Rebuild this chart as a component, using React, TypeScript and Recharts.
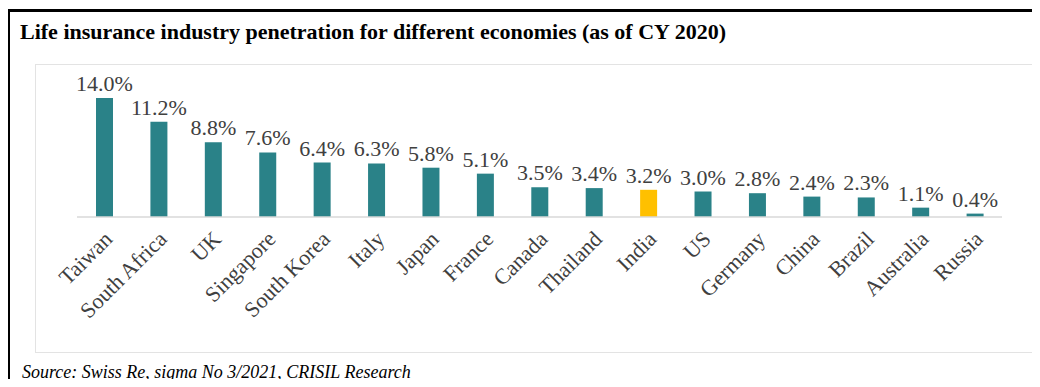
import React from 'react';
import { BarChart, Bar, XAxis, YAxis, Cell, LabelList } from 'recharts';

const countries = ['Taiwan', 'South Africa', 'UK', 'Singapore', 'South Korea', 'Italy', 'Japan', 'France', 'Canada', 'Thailand', 'India', 'US', 'Germany', 'China', 'Brazil', 'Australia', 'Russia'];
const penetration = [14.0, 11.2, 8.8, 7.6, 6.4, 6.3, 5.8, 5.1, 3.5, 3.4, 3.2, 3.0, 2.8, 2.4, 2.3, 1.1, 0.4];
const highlight = 'India';

const data = countries.map((c, i) => ({ country: c, value: penetration[i] }));

const TEAL = '#2A8288';
const GOLD = '#FFC000';
const serif = '"Liberation Serif", "Times New Roman", serif';

const AngledTick: React.FC<any> = ({ x, y, payload }) => (
  <g transform={`translate(${x + 4},${y + 10})`}>
    <text transform="rotate(-45)" textAnchor="end" dy="0.35em" fontSize={22} fill="#404040" fontFamily={serif}>
      {payload.value}
    </text>
  </g>
);

// labels sit above the bar, but never lower than a floor line like the original
const ValueLabel: React.FC<any> = ({ x, y, width, value }) => {
  const ty = Math.min(y - 7, 190);
  return (
    <text x={x + width / 2} y={ty} textAnchor="middle" fontSize={22} fill="#404040" fontFamily={serif}>
      {`${value.toFixed(1)}%`}
    </text>
  );
};

export default function App() {
  return (
    <div style={{ position: 'relative', margin: -8, width: 1040, height: 387, background: '#fff', overflow: 'hidden', fontFamily: serif }}>
      <div style={{ position: 'absolute', left: 7, top: 9, width: 1033, height: 378, borderTop: '3px solid #000', borderLeft: '3px solid #000' }} />
      <div style={{ position: 'absolute', left: 20, top: 19, fontSize: 22, fontWeight: 'bold', color: '#000', whiteSpace: 'nowrap' }}>
        Life insurance industry penetration for different economies (as of CY 2020)
      </div>
      <div style={{ position: 'absolute', left: 35, top: 64, width: 1004, height: 287, border: '1px solid #e3e3e3' }}>
        <BarChart width={1004} height={287} data={data} margin={{ top: 33, right: 38, left: 41, bottom: 35 }} barCategoryGap={0}>
          <XAxis dataKey="country" interval={0} height={100} tick={<AngledTick />} tickLine={false} axisLine={{ stroke: '#d9d9d9', strokeWidth: 1.5 }} />
          <YAxis hide domain={[0, 14]} />
          <Bar dataKey="value" barSize={17} isAnimationActive={false}>
            {data.map((d) => (
              <Cell key={d.country} fill={d.country === highlight ? GOLD : TEAL} />
            ))}
            <LabelList dataKey="value" content={<ValueLabel />} />
          </Bar>
        </BarChart>
      </div>
      <div style={{ position: 'absolute', left: 22, top: 362, fontSize: 18, fontStyle: 'italic', color: '#000', whiteSpace: 'nowrap' }}>
        Source: Swiss Re, sigma No 3/2021, CRISIL Research
      </div>
    </div>
  );
}
